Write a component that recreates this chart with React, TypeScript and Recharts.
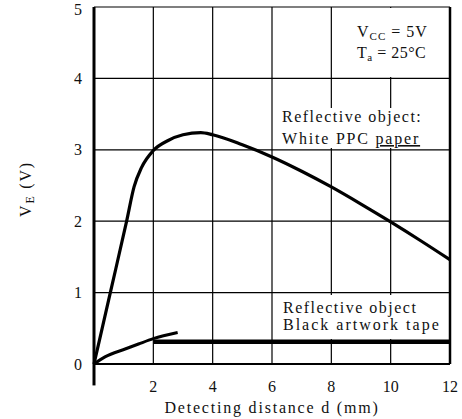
import {
  LineChart, Line, XAxis, YAxis, CartesianGrid, ReferenceLine, Label
} from 'recharts';

// distance d (mm) vs output voltage V_E (V)
const whitePaperD = [0, 0.55, 1.1, 1.35, 1.6, 2.0, 2.5, 3.0, 3.6, 4.0, 5.0, 6.0, 7.0, 8.0, 9.0, 10.0, 11.0, 12.0];
const whitePaperV = [0, 1.0, 2.0, 2.48, 2.75, 2.99, 3.13, 3.21, 3.24, 3.21, 3.07, 2.9, 2.7, 2.48, 2.24, 1.99, 1.73, 1.46];

const blackTapeD = [0, 0.37, 1.05, 1.5, 2.0, 2.82];
const blackTapeV = [0, 0.1, 0.21, 0.28, 0.355, 0.44];

// flat thick line (black tape beyond 2 mm)
const tapeLevelD = [2, 12];
const tapeLevelV = [0.31, 0.31];

const xTicks = [0, 2, 4, 6, 8, 10, 12];
const yTicks = [0, 1, 2, 3, 4, 5];

const toPoints = (xs: number[], ys: number[]) => xs.map((x, i) => ({ x, y: ys[i] }));

const FONT = '"Liberation Serif", "DejaVu Serif", serif';

export default function App() {
  const white = toPoints(whitePaperD, whitePaperV);
  const black = toPoints(blackTapeD, blackTapeV);
  const level = toPoints(tapeLevelD, tapeLevelV);

  const txt = { style: { fontFamily: FONT }, fill: '#111' };

  return (
    <div style={{ position: 'absolute', left: 0, top: 0, width: 462, height: 419, background: '#fff', fontFamily: FONT }}>
      <LineChart data={white} width={462} height={419} margin={{ top: 7, right: 12, left: 0, bottom: 0 }} style={{ fontFamily: FONT }}>
        <CartesianGrid stroke="#000" strokeWidth={1.2} />
        <XAxis
          dataKey="x"
          type="number"
          domain={[0, 12]}
          ticks={xTicks}
          height={55}
          tickSize={0}
          tickMargin={17}
          tickLine={false}
          axisLine={{ stroke: '#000', strokeWidth: 2 }}
          tickFormatter={(v: number) => (v === 0 ? '' : String(v))}
          tick={{ fill: '#111', fontSize: 16, style: { fontFamily: FONT } }}
        >
          <Label
            value="Detecting distance d (mm)"
            position="insideBottom"
            offset={6}
            style={{ fontFamily: FONT, fontSize: 16, letterSpacing: 1.8, fill: '#111' }}
          />
        </XAxis>
        <YAxis
          type="number"
          domain={[0, 5]}
          ticks={yTicks}
          width={94}
          tickSize={0}
          tickMargin={12}
          tickLine={false}
          axisLine={{ stroke: '#000', strokeWidth: 3 }}
          tick={{ fill: '#111', fontSize: 16, style: { fontFamily: FONT } }}
        />

        <ReferenceLine x={12} stroke="#000" strokeWidth={2.5} />
        <ReferenceLine
          segment={[{ x: 0, y: 0 }, { x: 0, y: -0.3 }]}
          stroke="#000"
          strokeWidth={3}
          ifOverflow="visible"
        />

        <Line dataKey="y" type="monotone" stroke="#000" strokeWidth={3.2} dot={false} isAnimationActive={false} />
        <Line data={black} dataKey="y" type="monotone" stroke="#000" strokeWidth={3} dot={false} isAnimationActive={false} />
        <Line data={level} dataKey="y" type="linear" stroke="#000" strokeWidth={4.5} dot={false} isAnimationActive={false} />

        {/* white boxes behind the notes, grid hidden there as in the print */}
        <rect x={340} y={8} width={108} height={69} fill="#fff" />
        <rect x={278} y={108} width={170} height={40} fill="#fff" />
        <rect x={280} y={295} width={168} height={44} fill="#fff" />

        {/* axis title, rotated */}
        <text {...txt} x={31} y={189} fontSize={16} textAnchor="middle" letterSpacing={1.8} transform="rotate(-90 31 189)">
          V<tspan fontSize={12} dy={3}>E</tspan><tspan dy={-3}> (V)</tspan>
        </text>

        {/* conditions */}
        <text {...txt} x={357} y={37} fontSize={16} letterSpacing={1}>
          V<tspan fontSize={11} dy={3}>CC</tspan><tspan dy={-3}> = 5V</tspan>
        </text>
        <text {...txt} x={357} y={58} fontSize={16} letterSpacing={0.5}>
          T<tspan fontSize={11} dy={3}>a</tspan><tspan dy={-3}> = 25°C</tspan>
        </text>

        {/* curve annotations */}
        <text {...txt} x={282} y={122} fontSize={16} letterSpacing={1.5}>Reflective object:</text>
        <text {...txt} x={282} y={144} fontSize={16} letterSpacing={1.8}>
          White PPC <tspan textDecoration="underline">paper</tspan>
        </text>
        <text {...txt} x={283} y={313} fontSize={16} letterSpacing={1.5}>Reflective object</text>
        <text {...txt} x={283} y={330} fontSize={16} letterSpacing={2}>Black artwork tape</text>
      </LineChart>
    </div>
  );
}
